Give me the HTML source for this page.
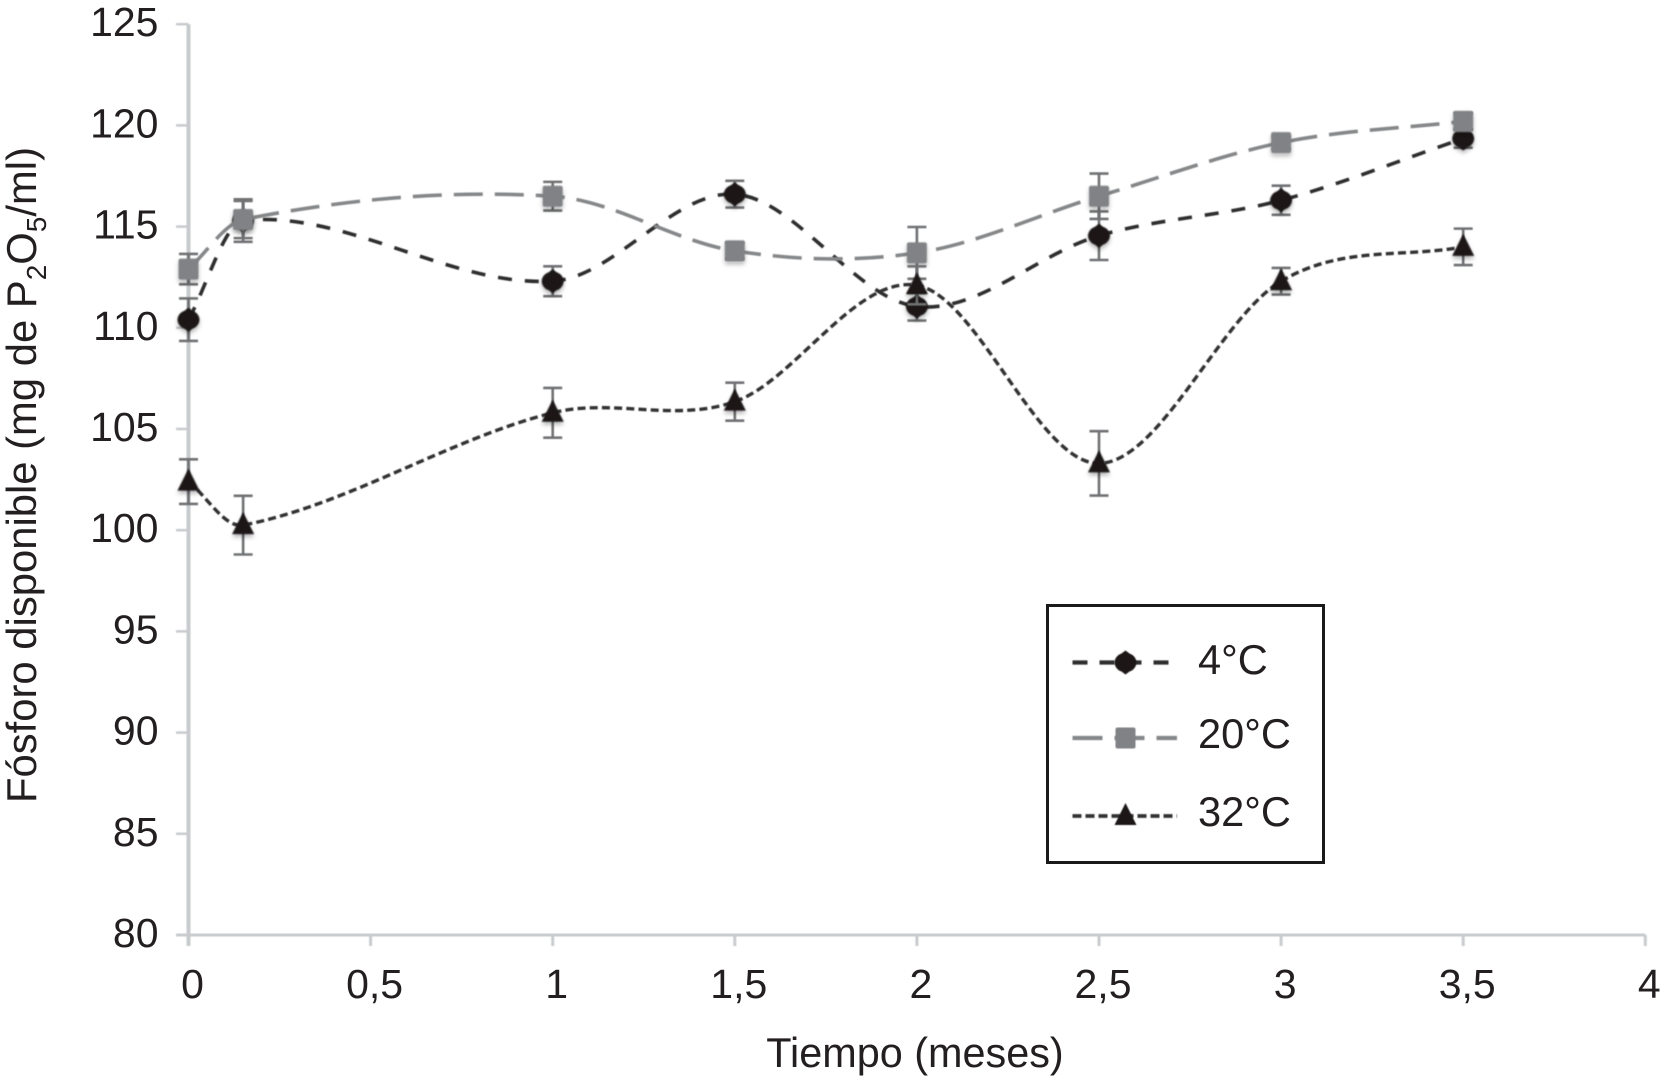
<!DOCTYPE html>
<html lang="es">
<head>
<meta charset="utf-8">
<title>Fósforo disponible</title>
<style>
html,body{margin:0;padding:0;background:#fff;width:1661px;height:1087px;overflow:hidden}
svg{display:block}
text{font-family:"Liberation Sans",Arial,sans-serif;fill:#231f20}
</style>
</head>
<body>
<svg id="chart" xmlns="http://www.w3.org/2000/svg" width="1661" height="1087" viewBox="0 0 1661 1087">
  <defs>
    <filter id="soft" filterUnits="userSpaceOnUse" x="0" y="0" width="1661" height="1087"><feGaussianBlur stdDeviation="0.65"/></filter>
    <filter id="mark" x="-60%" y="-60%" width="220%" height="240%">
      <feGaussianBlur stdDeviation="0.8" result="b"/>
      <feDropShadow in="b" dx="0" dy="3" stdDeviation="2.2" flood-color="#000" flood-opacity="0.28"/>
    </filter>
  </defs>
  <g id="axes" filter="url(#soft)"></g>
  <g id="tick-labels"></g>
  <text x="915" y="1067" font-size="41.4" text-anchor="middle">Tiempo (meses)</text>
  <text transform="translate(36,475) rotate(-90)" font-size="41.8" text-anchor="middle">Fósforo disponible (mg de P<tspan font-size="28" dy="10">2</tspan><tspan dy="-10">O</tspan><tspan font-size="28" dy="10">5</tspan><tspan dy="-10">/ml)</tspan></text>
  <g id="series"></g>
  <g id="legend">
    <rect x="1047.5" y="605.5" width="276" height="257" fill="#fff" stroke="#1a1a1a" stroke-width="3"/>
  </g>
</svg>
<script>
const times = [0, 0.15, 1, 1.5, 2, 2.5, 3, 3.5];
const temp4 = [110.4, 115.3, 112.3, 116.6, 111.05, 114.55, 116.3, 119.35];
const temp20 = [112.9, 115.35, 116.5, 113.8, 113.7, 116.5, 119.15, 120.2];
const temp32 = [102.4, 100.25, 105.8, 106.35, 112.1, 103.3, 112.3, 114.0];
const err4 = [1.05, 1.05, 0.74, 0.66, 0.69, 1.2, 0.72, 0.45];
const err20 = [0.75, 0.92, 0.71, 0.4, 1.28, 1.12, 0.3, 0.4];
const err32 = [1.1, 1.45, 1.23, 0.94, 0.94, 1.59, 0.66, 0.9];
const seriesNames = ["4°C", "20°C", "32°C"];
const yTickValues = [80, 85, 90, 95, 100, 105, 110, 115, 120, 125];
const xTickValues = [0, 0.5, 1, 1.5, 2, 2.5, 3, 3.5, 4];
const xTickLabels = ["0", "0,5", "1", "1,5", "2", "2,5", "3", "3,5", "4"];

const NS = "http://www.w3.org/2000/svg";
const xOf = v => 188.5 + v * 364.2;
const yOf = v => 935 - (v - 80) * 20.24;

function mk(parent, tag, attrs) {
  const el = document.createElementNS(NS, tag);
  for (const k in attrs) el.setAttribute(k, attrs[k]);
  parent.appendChild(el);
  return el;
}

function smoothPath(pts) {
  const n = pts.length;
  const slope = (a, b) => (b[1] - a[1]) / (b[0] - a[0]);
  const m = pts.map((p, i) => {
    if (i === 0) return slope(pts[0], pts[1]);
    if (i === n - 1) return slope(pts[n - 2], pts[n - 1]);
    const h0 = p[0] - pts[i - 1][0], h1 = pts[i + 1][0] - p[0];
    return (h0 * slope(pts[i - 1], p) + h1 * slope(p, pts[i + 1])) / (h0 + h1);
  });
  let d = "M" + pts[0][0].toFixed(1) + " " + pts[0][1].toFixed(1);
  for (let i = 0; i < n - 1; i++) {
    const p = pts[i], q = pts[i + 1], h = (q[0] - p[0]) / 3;
    d += "C" + (p[0] + h).toFixed(1) + " " + (p[1] + m[i] * h).toFixed(1) + " " + (q[0] - h).toFixed(1) + " " + (q[1] - m[i + 1] * h).toFixed(1) + " " + q[0].toFixed(1) + " " + q[1].toFixed(1);
  }
  return d;
}

function drawMarker(parent, kind, cx, cy, fill) {
  if (kind === "circle") return mk(parent, "path", {
    d: "M" + cx + " " + (cy - 12) + "L" + (cx + 4) + " " + (cy - 9) + "A10 10 0 0 1 " + (cx + 11) + " " + cy + "A10 10 0 0 1 " + (cx + 4) + " " + (cy + 9) + "L" + cx + " " + (cy + 12) + "L" + (cx - 4) + " " + (cy + 9) + "A10 10 0 0 1 " + (cx - 11) + " " + cy + "A10 10 0 0 1 " + (cx - 4) + " " + (cy - 9) + "Z",
    fill: fill
  });
  if (kind === "square") return mk(parent, "rect", { x: cx - 10, y: cy - 10.5, width: 20, height: 21, rx: 2, fill: fill });
  return mk(parent, "path", {
    d: "M" + cx + " " + (cy - 13) + "L" + (cx + 11) + " " + (cy + 9) + "L" + (cx - 11) + " " + (cy + 9) + "Z",
    fill: fill
  });
}

const configs = [
  { key: "temp-4c", name: seriesNames[0], vals: temp4, errs: err4, marker: "circle", fill: "#1b1718", line: "#2e2e2e", dash: "14 13", legendDash: "15 12", width: 3.6, legendWidth: 4.2 },
  { key: "temp-20c", name: seriesNames[1], vals: temp20, errs: err20, marker: "square", fill: "#808285", line: "#858789", dash: "29 12", legendDash: "30 12", width: 3.6, legendWidth: 4.2 },
  { key: "temp-32c", name: seriesNames[2], vals: temp32, errs: err32, marker: "triangle", fill: "#1b1718", line: "#303030", dash: "8 4.2", legendDash: "9 4", width: 3.4, legendWidth: 3.8 }
];

/* axes */
const axes = document.getElementById("axes");
const yAxis = mk(axes, "line", { x1: xOf(0), x2: xOf(0), y1: yOf(125), y2: 946, stroke: "#c8cbce", "stroke-width": 4 });


const xAxis = mk(axes, "line", { x1: 176, x2: xOf(4), y1: yOf(80), y2: yOf(80), stroke: "#c8cbce", "stroke-width": 3 });



const labels = document.getElementById("tick-labels");
yTickValues.forEach(v => {
  const t = mk(axes, "line", { x1: 176, x2: xOf(0), y1: yOf(v), y2: yOf(v), stroke: "#c8cbce", "stroke-width": 2.5 });
  
  
  const l = mk(labels, "text", { x: 158.5, y: yOf(v) + 12, "font-size": 41, "text-anchor": "end" });
  
  
  l.textContent = v;
});
xTickValues.forEach((v, i) => {
  const t = mk(axes, "line", { x1: xOf(v), x2: xOf(v), y1: yOf(80), y2: 946, stroke: "#c8cbce", "stroke-width": 3 });
  
  
  const l = mk(labels, "text", { x: xOf(v) + 4, y: 998, "font-size": 41, "text-anchor": "middle" });
  
  
  l.textContent = xTickLabels[i];
});

/* series */
const seriesRoot = document.getElementById("series");
configs.forEach(c => {
  const g = mk(seriesRoot, "g", {});
  
  

  const pts = times.map((t, i) => [xOf(t), yOf(c.vals[i])]);
  const line = mk(g, "path", { d: smoothPath(pts), fill: "none", stroke: c.line, "stroke-width": c.width, "stroke-dasharray": c.dash, filter: "url(#soft)" });
  
  

  times.forEach((t, i) => {
    const x = xOf(t), hi = yOf(c.vals[i] + c.errs[i]), lo = yOf(c.vals[i] - c.errs[i]);
    const eb = mk(g, "path", {
      d: "M" + x + " " + hi + "V" + lo + "M" + (x - 9.5) + " " + hi + "H" + (x + 9.5) + "M" + (x - 9.5) + " " + lo + "H" + (x + 9.5),
      fill: "none", stroke: "#6f7173", "stroke-width": 2.6, filter: "url(#soft)"
    });
    
    
  });
  times.forEach((t, i) => {
    const m = drawMarker(g, c.marker, xOf(t), yOf(c.vals[i]), c.fill);
    m.setAttribute("filter", "url(#mark)");
    
    
  });
});

/* legend */
const legend = document.getElementById("legend");
const legendRows = [662.5, 738, 816];
const legendBase = [674, 748, 826];
configs.forEach((c, i) => {
  const g = mk(legend, "g", {});
  
  
  const s = mk(g, "line", { x1: 1072.5, x2: 1177, y1: legendRows[i], y2: legendRows[i], stroke: c.line, "stroke-width": c.legendWidth, "stroke-dasharray": c.legendDash, filter: "url(#soft)" });
  
  
  const m = drawMarker(g, c.marker, 1125.5, legendRows[i], c.fill);
  m.setAttribute("filter", "url(#soft)");
  
  
  const l = mk(g, "text", { x: 1198, y: legendBase[i], "font-size": 41.6 });
  
  
  l.textContent = c.name;
});
</script>
</body>
</html>
